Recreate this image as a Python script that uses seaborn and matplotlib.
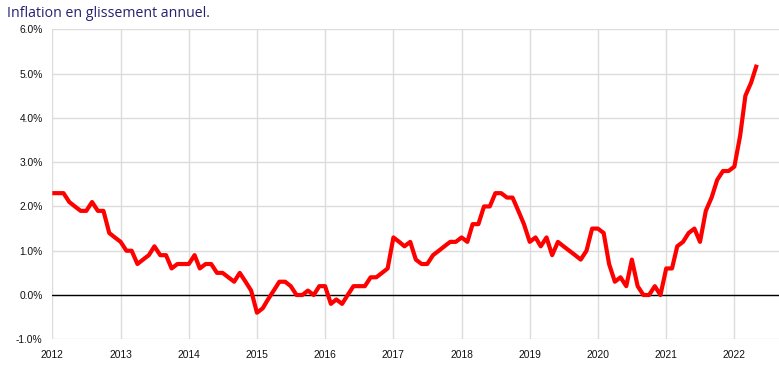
import numpy as np
import pandas as pd
import matplotlib
matplotlib.use("Agg")
import matplotlib.pyplot as plt
import matplotlib.dates as mdates
from matplotlib.ticker import FuncFormatter
import seaborn as sns

# Monthly year-on-year inflation (%), Jan 2012 -> May 2022
start_month = "2012-01-01"
inflation = [
    # 2012
    2.3, 2.3, 2.3, 2.1, 2.0, 1.9, 1.9, 2.1, 1.9, 1.9, 1.4, 1.3,
    # 2013
    1.2, 1.0, 1.0, 0.7, 0.8, 0.9, 1.1, 0.9, 0.9, 0.6, 0.7, 0.7,
    # 2014
    0.7, 0.9, 0.6, 0.7, 0.7, 0.5, 0.5, 0.4, 0.3, 0.5, 0.3, 0.1,
    # 2015
    -0.4, -0.3, -0.1, 0.1, 0.3, 0.3, 0.2, 0.0, 0.0, 0.1, 0.0, 0.2,
    # 2016
    0.2, -0.2, -0.1, -0.2, 0.0, 0.2, 0.2, 0.2, 0.4, 0.4, 0.5, 0.6,
    # 2017
    1.3, 1.2, 1.1, 1.2, 0.8, 0.7, 0.7, 0.9, 1.0, 1.1, 1.2, 1.2,
    # 2018
    1.3, 1.2, 1.6, 1.6, 2.0, 2.0, 2.3, 2.3, 2.2, 2.2, 1.9, 1.6,
    # 2019
    1.2, 1.3, 1.1, 1.3, 0.9, 1.2, 1.1, 1.0, 0.9, 0.8, 1.0, 1.5,
    # 2020
    1.5, 1.4, 0.7, 0.3, 0.4, 0.2, 0.8, 0.2, 0.0, 0.0, 0.2, 0.0,
    # 2021
    0.6, 0.6, 1.1, 1.2, 1.4, 1.5, 1.2, 1.9, 2.2, 2.6, 2.8, 2.8,
    # 2022
    2.9, 3.6, 4.5, 4.8, 5.2,
]
year_ticks = list(range(2012, 2023))
y_ticks = [-1.0, 0.0, 1.0, 2.0, 3.0, 4.0, 5.0, 6.0]
title = "Inflation en glissement annuel."

dates = pd.date_range(start_month, periods=len(inflation), freq="MS")
df = pd.DataFrame({"date": dates, "inflation": inflation})

sns.set_theme(style="white")
plt.rcParams["font.family"] = ["Liberation Sans", "DejaVu Sans"]

fig = plt.figure(figsize=(7.79, 3.79), dpi=100)
ax = fig.add_axes([52.3 / 779, 1 - 339.3 / 379, 1 - 52.3 / 779, (339.3 - 29.3) / 379])

sns.lineplot(data=df, x="date", y="inflation", ax=ax, color="#ff0000",
             linewidth=3.0, solid_joinstyle="round", solid_capstyle="butt",
             zorder=3)

ax.axhline(0, color="black", linewidth=1.0, zorder=2)

ax.set_ylim(-1.0, 6.0)
ax.set_xlim(pd.Timestamp("2012-01-01"), pd.Timestamp("2022-08-28"))
ax.set_yticks(y_ticks)
ax.yaxis.set_major_formatter(FuncFormatter(lambda v, p: f"{v:.1f}%"))
ax.set_xticks([pd.Timestamp(f"{y}-01-01") for y in year_ticks])
ax.xaxis.set_major_formatter(mdates.DateFormatter("%Y"))

ax.grid(True, color="#dcdcdc", linewidth=1.0, zorder=0)
for s in ax.spines.values():
    s.set_visible(False)
ax.tick_params(axis="both", length=0, labelsize=7.4, colors="#111111")
ax.tick_params(axis="y", pad=7)
ax.tick_params(axis="x", pad=8)
ax.set_xlabel("")
ax.set_ylabel("")

fig.text(7 / 779, 1 - 17 / 379, title, fontsize=10.2, color="#25216e",
         family=["Open Sans", "DejaVu Sans"], ha="left", va="baseline")

fig.savefig("out.png", dpi=100)
